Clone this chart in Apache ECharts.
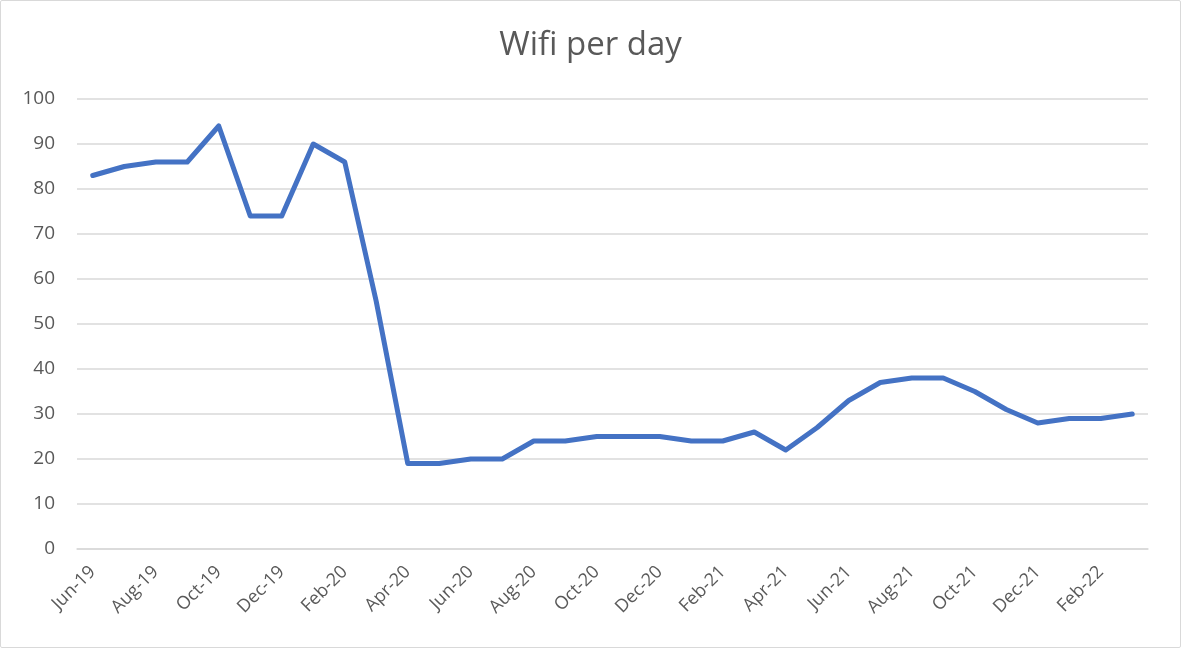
<!DOCTYPE html>
<html>
<head>
<meta charset="utf-8">
<script src="https://cdn.jsdelivr.net/npm/echarts@6/dist/echarts.min.js"></script>
<style>
  html, body { margin: 0; padding: 0; background: #fff; }
  #chart { width: 1179px; height: 646px; border: 1px solid #d9d9d9; border-radius: 2px; }
</style>
</head>
<body>
<div id="chart"></div>
<script>
// months on the x axis
var months = [
    "Jun-19", "Jul-19", "Aug-19", "Sep-19", "Oct-19", "Nov-19", "Dec-19",
    "Jan-20", "Feb-20", "Mar-20", "Apr-20", "May-20", "Jun-20", "Jul-20",
    "Aug-20", "Sep-20", "Oct-20", "Nov-20", "Dec-20", "Jan-21", "Feb-21",
    "Mar-21", "Apr-21", "May-21", "Jun-21", "Jul-21", "Aug-21", "Sep-21",
    "Oct-21", "Nov-21", "Dec-21", "Jan-22", "Feb-22", "Mar-22"
];
// wifi per day
var wifi = [
    83, 85, 86, 86, 94, 74, 74,
    90, 86, 55, 19, 19, 20, 20,
    24, 24, 25, 25, 25, 24, 24,
    26, 22, 27, 33, 37, 38, 38,
    35, 31, 28, 29, 29, 30
];

var textColor = '#595959';
var gridColor = '#d9d9d9';

var chart = echarts.init(document.getElementById('chart'));
var option = {
    animation: false,
    title: {
        text: 'Wifi per day',
        left: 'center',
        top: 23,
        textStyle: {
            fontFamily: 'Open Sans',
            fontWeight: 'normal',
            fontSize: 33,
            color: textColor
        }
    },
    grid: {
        left: 76,
        right: 32,
        top: 98,
        bottom: 98
    },
    xAxis: {
        type: 'category',
        data: months,
        boundaryGap: true,
        axisLine: { lineStyle: { color: gridColor, width: 1.5 } },
        axisTick: { interval: 1, length: 6, lineStyle: { color: gridColor, width: 1.5 } },
        axisLabel: {
            interval: 1,
            rotate: 45,
            fontFamily: 'Open Sans',
            fontSize: 18,
            color: textColor,
            margin: 20
        }
    },
    yAxis: {
        type: 'value',
        min: 0,
        max: 100,
        interval: 10,
        axisLine: { show: false },
        axisTick: { show: false },
        axisLabel: {
            fontFamily: 'Open Sans',
            fontSize: 19,
            color: textColor,
            margin: 22
        },
        splitLine: { lineStyle: { color: gridColor, width: 1.5 } }
    },
    series: [{
        type: 'line',
        data: wifi,
        showSymbol: false,
        lineStyle: { color: '#4472c4', width: 5, cap: 'round', join: 'round' },
        itemStyle: { color: '#4472c4' }
    }]
};
chart.setOption(option);
</script>
</body>
</html>
